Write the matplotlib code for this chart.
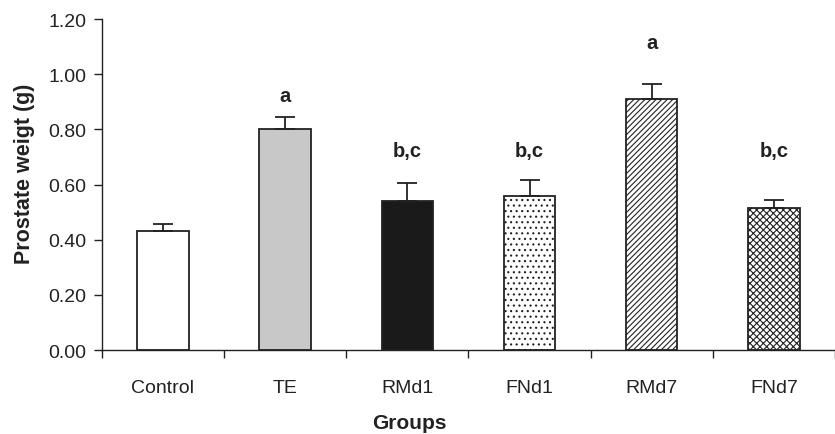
import matplotlib.pyplot as plt
import numpy as np

plt.rcParams['font.family'] = ['Liberation Sans', 'DejaVu Sans']
plt.rcParams['hatch.linewidth'] = 0.8
plt.rcParams['hatch.color'] = '#333333'

groups = ['Control', 'TE', 'RMd1', 'FNd1', 'RMd7', 'FNd7']
means = [0.43, 0.80, 0.54, 0.56, 0.91, 0.515]
errs = [0.027, 0.043, 0.067, 0.055, 0.053, 0.028]
letters = ['', 'a', 'b,c', 'b,c', 'a', 'b,c']
letter_y = [0, 0.89, 0.69, 0.69, 1.08, 0.69]

colors = ['white', '#c8c8c8', '#1a1a1a', 'white', 'white', 'white']
hatches = [None, None, None, '...', '//////', 'xxxxx']

fig = plt.figure(figsize=(8.35, 4.35), dpi=100)
ax = fig.add_axes([0.122, 0.193, 0.878, 0.761])

x = np.arange(len(groups))
for i in range(len(groups)):
    ax.bar(x[i], means[i], width=0.42, color=colors[i], edgecolor='#222222',
           linewidth=1.3, hatch=hatches[i], zorder=2)
ax.errorbar(x, means, yerr=[np.zeros(len(errs)), errs], fmt='none',
            ecolor='#222222', elinewidth=1.3, capsize=7, capthick=1.3, zorder=3)

for i in range(len(groups)):
    if letters[i]:
        ax.text(x[i], letter_y[i], letters[i], ha='center', va='bottom',
                fontsize=14.5, fontweight='bold', color='#222222')

ax.set_xlim(-0.5, len(groups) - 0.5)
ax.set_ylim(0, 1.2)
ax.set_yticks(np.arange(0, 1.21, 0.2))
ax.set_yticklabels(['%.2f' % v for v in np.arange(0, 1.21, 0.2)])
ax.set_xticks(np.arange(-0.5, len(groups), 1.0))
ax.set_xticklabels([])
ax.set_xticks(x, minor=True)
ax.set_xticklabels(groups, minor=True)
ax.tick_params(axis='x', which='major', direction='out', length=6, width=1, color='#222222')
ax.tick_params(axis='x', which='minor', length=0, pad=21, labelsize=14, labelcolor='#222222')
ax.tick_params(axis='y', direction='out', length=6, width=1, labelsize=14,
               labelcolor='#222222', color='#222222', pad=5)

ax.spines['top'].set_visible(False)
ax.spines['right'].set_visible(False)
ax.spines['left'].set_color('#222222')
ax.spines['bottom'].set_color('#222222')
ax.spines['left'].set_linewidth(1)
ax.spines['bottom'].set_linewidth(1)

ax.set_xlabel('Groups', fontsize=15, fontweight='bold', color='#222222', va='center')
ax.set_ylabel('Prostate weigt (g)', fontsize=15.5, fontweight='bold', color='#222222', va='center')
ax.xaxis.set_label_coords(0.42, -0.2175)
ax.yaxis.set_label_coords(-0.105, 0.535)

fig.savefig('out.png', dpi=100)
